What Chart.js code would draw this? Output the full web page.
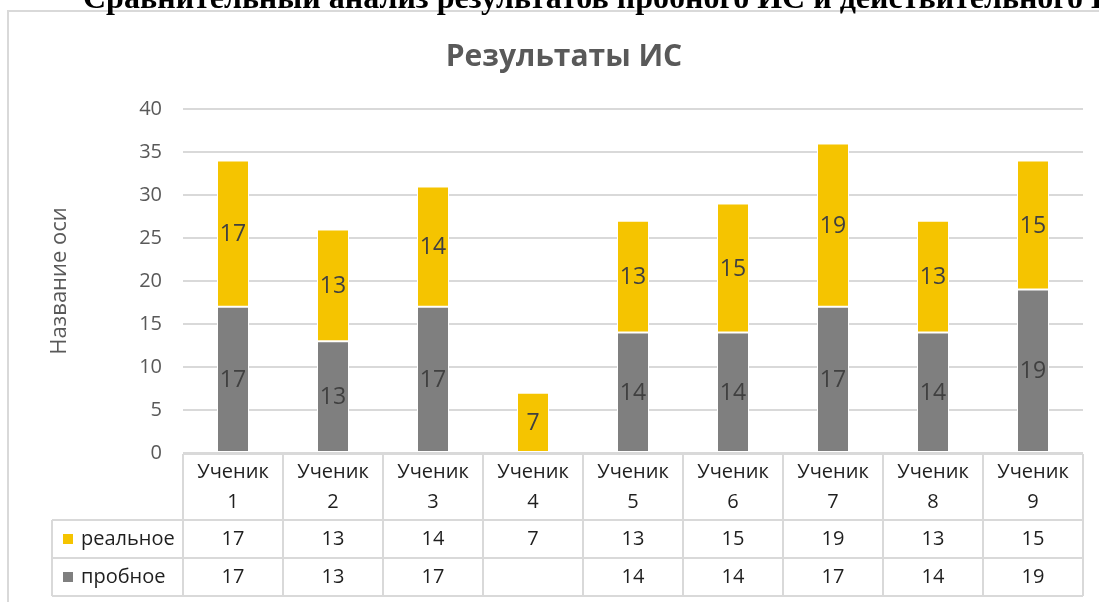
<!DOCTYPE html>
<html lang="ru">
<head>
<meta charset="utf-8">
<title>Результаты ИС</title>
<script src="https://cdn.jsdelivr.net/npm/chart.js@4.4.0/dist/chart.umd.min.js"></script>
<style>
  html, body { margin: 0; padding: 0; background: #fff; overflow: hidden; }
  #wrap { position: relative; width: 1099px; height: 602px; overflow: hidden; }
  #chart { position: absolute; left: 0; top: 0; }
  #heading {
    position: absolute; left: 83px; top: -19px;
    font: bold 32px "Liberation Serif", "Times New Roman", serif;
    line-height: 32px; white-space: nowrap; color: #000;
  }
</style>
</head>
<body>
<div id="wrap">
  <canvas id="chart" width="1099" height="602"></canvas>
  <div id="heading">Сравнительный анализ результатов пробного ИС и действительного ИС</div>
</div>
<script>
"use strict";

const students = [
  ["Ученик", "1"], ["Ученик", "2"], ["Ученик", "3"],
  ["Ученик", "4"], ["Ученик", "5"], ["Ученик", "6"],
  ["Ученик", "7"], ["Ученик", "8"], ["Ученик", "9"],
];
const realScores = [17, 13, 14, 7, 13, 15, 19, 13, 15];
const trialScores = [17, 13, 17, null, 14, 14, 17, 14, 19];
const yTicks = { min: 0, max: 40, step: 5 };
const chartTitle = "Результаты ИС";

const FONT = '"Open Sans", "Noto Sans", sans-serif';
const GRID = "#d9d9d9";
const YELLOW = "#f5c400";
const GRAY = "#7f7f7f";

// order of rows in the data table (top to bottom), bars are stacked the other way
const seriesRows = [
  { label: "реальное", data: realScores, color: YELLOW },
  { label: "пробное", data: trialScores, color: GRAY },
];

const framePlugin = {
  id: "frame",
  beforeDraw(chart) {
    const { ctx } = chart;
    ctx.save();
    ctx.fillStyle = "#fff";
    ctx.fillRect(0, 0, chart.width, chart.height);
    ctx.strokeStyle = GRID;
    ctx.lineWidth = 2;
    ctx.strokeRect(8, 11, chart.width + 20, chart.height + 20);
    // the chart object is wider than the window, so its title sits right of centre
    ctx.font = `bold 30px ${FONT}`;
    ctx.fillStyle = "#595959";
    ctx.textAlign = "center";
    ctx.textBaseline = "middle";
    ctx.fillText(chartTitle, 564, 57);
    ctx.restore();
  },
};

const barValuesPlugin = {
  id: "barValues",
  afterDatasetsDraw(chart) {
    const { ctx } = chart;
    ctx.save();
    ctx.font = `23px ${FONT}`;
    ctx.fillStyle = "#404040";
    ctx.textAlign = "center";
    ctx.textBaseline = "middle";
    chart.data.datasets.forEach((ds, di) => {
      const meta = chart.getDatasetMeta(di);
      meta.data.forEach((bar, i) => {
        const v = ds.data[i];
        if (v === null || v === undefined) return;
        ctx.fillText(String(v), bar.x, (bar.y + bar.base) / 2 + 1);
      });
    });
    ctx.restore();
  },
};

const dataTablePlugin = {
  id: "dataTable",
  afterDraw(chart) {
    const { ctx, chartArea } = chart;
    const x = chart.scales.x;
    const n = students.length;
    const step = (x.right - x.left) / n;
    const top = chartArea.bottom + 1;
    const rows = [top + 66, top + 104, top + 142];
    const keyLeft = 52;

    ctx.save();
    ctx.strokeStyle = GRID;
    ctx.lineWidth = 2;
    ctx.beginPath();
    ctx.moveTo(x.left, top);
    ctx.lineTo(x.right, top);
    rows.forEach((y) => {
      ctx.moveTo(keyLeft, y);
      ctx.lineTo(x.right, y);
    });
    for (let i = 0; i <= n; i++) {
      const cx = x.left + i * step;
      ctx.moveTo(cx, top);
      ctx.lineTo(cx, rows[2]);
    }
    ctx.moveTo(keyLeft, rows[0]);
    ctx.lineTo(keyLeft, rows[2]);
    ctx.stroke();

    ctx.font = `20px ${FONT}`;
    ctx.fillStyle = "#1f1f1f";
    ctx.textAlign = "center";
    ctx.textBaseline = "middle";
    students.forEach((lines, i) => {
      const cx = x.getPixelForValue(i);
      ctx.fillText(lines[0], cx, top + 18);
      ctx.fillText(lines[1], cx, top + 48);
    });

    seriesRows.forEach((row, r) => {
      const cy = (rows[r] + rows[r + 1]) / 2;
      ctx.fillStyle = row.color;
      ctx.fillRect(63, cy - 5, 10, 10);
      ctx.fillStyle = "#1f1f1f";
      ctx.textAlign = "left";
      ctx.fillText(row.label, 81, cy);
      ctx.textAlign = "center";
      row.data.forEach((v, i) => {
        if (v === null || v === undefined) return;
        ctx.fillText(String(v), x.getPixelForValue(i), cy);
      });
    });
    ctx.restore();
  },
};

new Chart(document.getElementById("chart"), {
  type: "bar",
  data: {
    labels: students,
    datasets: [
      {
        label: "пробное",
        data: trialScores,
        backgroundColor: GRAY,
        borderColor: "#fff",
        borderWidth: 1,
        borderSkipped: false,
      },
      {
        label: "реальное",
        data: realScores,
        backgroundColor: YELLOW,
        borderColor: "#fff",
        borderWidth: 1,
        borderSkipped: false,
      },
    ],
  },
  options: {
    responsive: false,
    devicePixelRatio: 1,
    animation: false,
    datasets: { bar: { categoryPercentage: 1, barPercentage: 0.32 } },
    layout: { padding: { left: 8, right: 16, top: 109, bottom: 149 } },
    plugins: {
      legend: { display: false },
      tooltip: { enabled: false },
      title: { display: false },
    },
    scales: {
      x: {
        stacked: true,
        display: false,
      },
      y: {
        stacked: true,
        min: yTicks.min,
        max: yTicks.max,
        ticks: {
          stepSize: yTicks.step,
          color: "#595959",
          font: { family: FONT, size: 20 },
          padding: 21,
        },
        grid: { color: GRID, lineWidth: 2, drawTicks: false },
        border: { display: false },
        title: {
          display: true,
          text: "Название оси",
          color: "#595959",
          font: { family: FONT, size: 22 },
          padding: { top: 39 },
        },
        afterFit(scale) {
          scale.width = 175;
        },
      },
    },
  },
  plugins: [framePlugin, barValuesPlugin, dataTablePlugin],
});
</script>
</body>
</html>
